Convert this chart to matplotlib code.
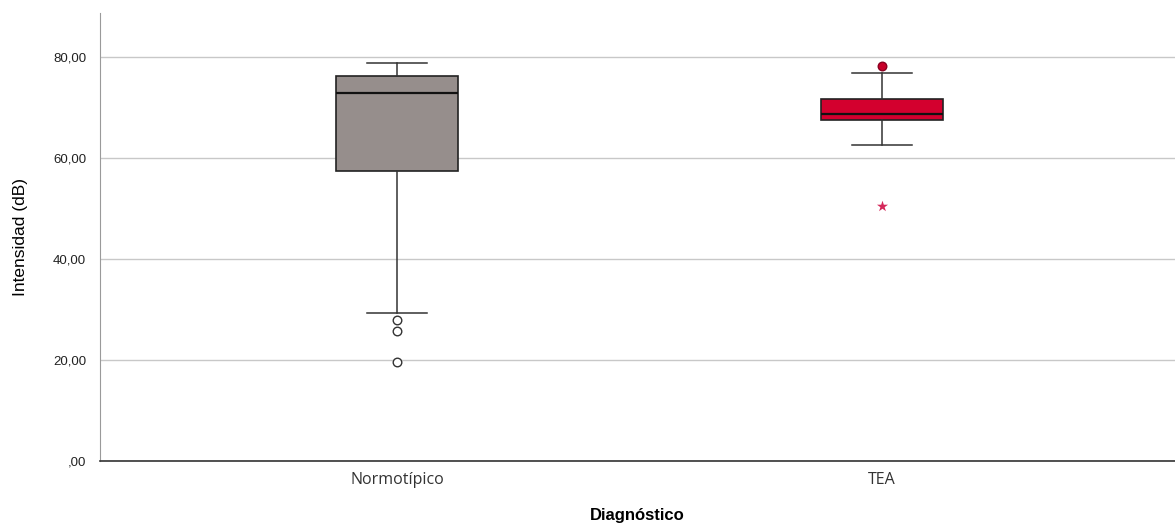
import matplotlib
matplotlib.use("Agg")
import matplotlib.pyplot as plt
from matplotlib.ticker import FuncFormatter

# Diagnostic groups and their box summaries (Intensidad, dB)
groups = ["Normotípico", "TEA"]
whisker_low = [29.3, 62.6]
q1 = [57.4, 67.5]
median = [72.9, 68.7]
q3 = [76.2, 71.6]
whisker_high = [78.8, 76.8]
outliers_circle = [[27.9, 25.7, 19.6], [78.3]]
outliers_extreme = [[], [50.4]]

box_colors = ["#968e8c", "#d3002e"]
circle_face = ["white", "#c8002a"]
star_color = "#d4285a"

fig = plt.figure(figsize=(11.75, 5.25), dpi=100)
ax = fig.add_axes([100 / 1175, 1 - 461 / 525, 1 - 100 / 1175, (461 - 13) / 525])

stats = []
for i, g in enumerate(groups):
    stats.append(dict(label=g, whislo=whisker_low[i], q1=q1[i], med=median[i],
                      q3=q3[i], whishi=whisker_high[i], fliers=[]))

positions = list(range(len(groups)))
bp = ax.bxp(stats, positions=positions, widths=0.25, patch_artist=True,
            showfliers=False, capwidths=0.124,
            boxprops=dict(edgecolor="#222222", linewidth=1.2),
            medianprops=dict(color="#111111", linewidth=1.6),
            whiskerprops=dict(color="#333333", linewidth=1.1),
            capprops=dict(color="#333333", linewidth=1.1),
            zorder=3)
for patch, c in zip(bp["boxes"], box_colors):
    patch.set_facecolor(c)

for i, pos in enumerate(positions):
    vals = outliers_circle[i]
    if vals:
        ax.scatter([pos] * len(vals), vals, s=38, facecolor=circle_face[i],
                   edgecolor="#333333" if i == 0 else "#8a0020",
                   linewidth=1.0, zorder=4)
    ext = outliers_extreme[i]
    if ext:
        ax.scatter([pos] * len(ext), ext, marker="*", s=70, color=star_color,
                   linewidth=0, zorder=4)

ax.set_xlim(-0.612, 1.604)
ax.set_ylim(0, 88.7)
ax.set_yticks([0, 20, 40, 60, 80])
ax.yaxis.set_major_formatter(FuncFormatter(
    lambda v, p: ",00" if v == 0 else f"{int(v)},00"))
ax.grid(axis="y", color="#c8c8c8", linewidth=1.0, zorder=0)
ax.set_axisbelow(True)

for s in ["top", "right"]:
    ax.spines[s].set_visible(False)
ax.spines["left"].set_color("#9a9a9a")
ax.spines["bottom"].set_color("#333333")
ax.spines["bottom"].set_linewidth(1.2)

ax.tick_params(axis="y", length=0, pad=10, labelsize=9.5, labelcolor="#222222")
ax.tick_params(axis="x", length=0, pad=8)
ax.set_xticks(positions)
ax.set_xticklabels(groups, fontsize=11.5, family=["Open Sans", "DejaVu Sans"],
                   color="#333333")
for lbl in ax.get_yticklabels():
    lbl.set_family(["Liberation Sans", "DejaVu Sans"])

ax.set_ylabel("Intensidad (dB)", fontsize=12.5,
              family=["Liberation Sans", "DejaVu Sans"],
              labelpad=18)
ax.set_xlabel("Diagnóstico", fontsize=12, fontweight="bold",
              family=["Liberation Sans", "DejaVu Sans"], labelpad=14)

fig.savefig("out.png", dpi=100)
